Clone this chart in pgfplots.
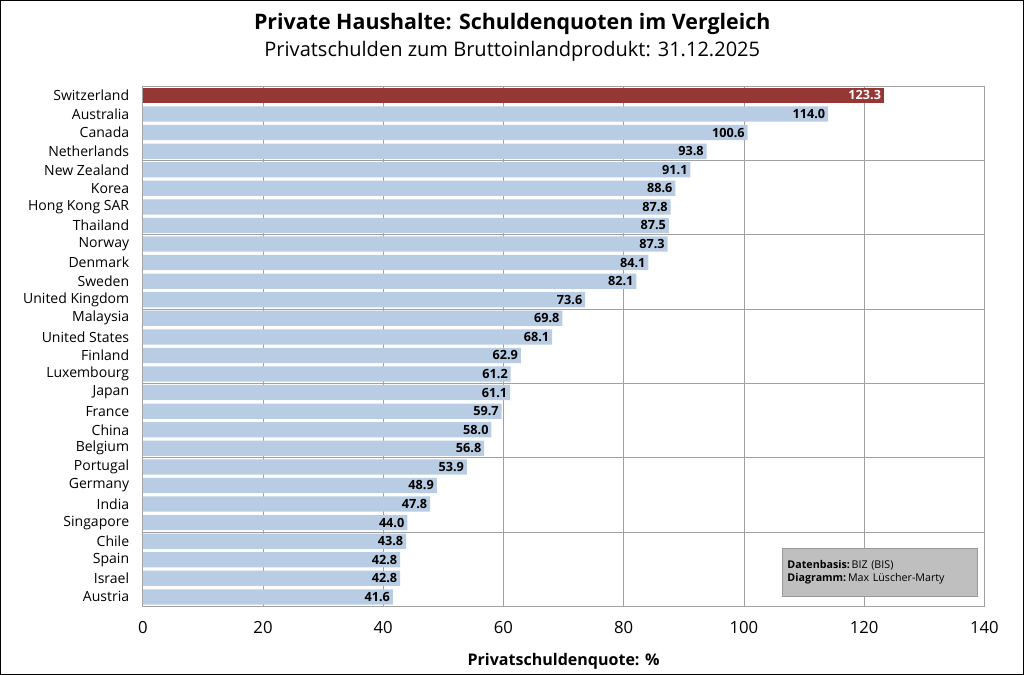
\documentclass[border=0pt]{standalone}
\usepackage{pgfplots}
\pgfplotsset{compat=1.18}
\usepackage{fontspec}
\setmainfont{Open Sans}
\definecolor{barblue}{HTML}{B8CCE4}
\definecolor{barred}{HTML}{953735}
\definecolor{gridc}{HTML}{A0A0A0}
\begin{document}
\begin{tikzpicture}[x=1pt,y=1pt]
\begin{axis}[
  scale only axis, width=630pt, height=389.25pt,
  xmin=0, xmax=140, ymin=-0.5, ymax=27.5,
  xtick={0,20,...,140}, xmajorgrids, 
  major grid style={gridc, line width=0.6pt},
  ytick={0,...,27},
  yticklabels={Austria,Israel,Spain,Chile,Singapore,India,Germany,Portugal,Belgium,China,France,Japan,Luxembourg,Finland,United States,Malaysia,United Kingdom,Sweden,Denmark,Norway,Thailand,Hong Kong SAR,Korea,New Zealand,Netherlands,Canada,Australia,Switzerland},
  extra y ticks={3.5,7.5,11.5,15.5,19.5,23.5},
  extra y tick labels={},
  extra y tick style={ymajorgrids, major tick length=0pt},
  major tick length=0pt,
  yticklabel style={font=\fontsize{10.5}{12}\selectfont, inner sep=1pt, xshift=-9pt},
  xticklabel style={font=\fontsize{12.5}{14}\selectfont, yshift=-8pt},
  /pgf/number format/assume math mode=true,
  axis line style={gridc, line width=0.6pt},
  xlabel={\textbf{Privatschuldenquote: \%}},
  xlabel style={font=\fontsize{12}{14}\selectfont, yshift=-8pt},
  xbar, bar shift=0pt, bar width=0.82,
  clip=false,
  nodes near coords={\pgfmathprintnumber[fixed, fixed zerofill, precision=1]{\pgfplotspointmeta}},
  nodes near coords style={anchor=east, font=\fontsize{9.5}{11}\bfseries, inner sep=2pt},
  point meta=x,
]
\addplot[fill=barblue, draw=none] coordinates {
(41.6,0)(42.8,1)(42.8,2)(43.8,3)(44.0,4)(47.8,5)(48.9,6)(53.9,7)(56.8,8)(58.0,9)(59.7,10)(61.1,11)(61.2,12)(62.9,13)(68.1,14)(69.8,15)(73.6,16)(82.1,17)(84.1,18)(87.3,19)(87.5,20)(87.8,21)(88.6,22)(91.1,23)(93.8,24)(100.6,25)(114.0,26)};
\addplot[fill=barred, draw=none, every node near coord/.append style={text=white}] coordinates {(123.3,27)};
\draw[black, line width=0.8pt] (rel axis cs:-0.1690,1.1647) rectangle (rel axis cs:1.0464,-0.1310);
\node[font=\fontsize{16}{18}\bfseries\selectfont] at (rel axis cs:0.439,1.1205) {Private Haushalte: Schuldenquoten im Vergleich};
\node[font=\fontsize{15}{18}\selectfont] at (rel axis cs:0.439,1.0665) {Privatschulden zum Bruttoinlandprodukt: 31.12.2025};
\node[fill=gray!50, draw=gray!80, minimum width=146pt, minimum height=36pt, anchor=south east, align=left, font=\fontsize{8}{10}\selectfont, text width=138pt]
  at (rel axis cs:0.9917,0.0183) {\textbf{Datenbasis:}\,BIZ (BIS)\\\textbf{Diagramm:}\,Max Lüscher-Marty};
\end{axis}
\end{tikzpicture}
\end{document}
